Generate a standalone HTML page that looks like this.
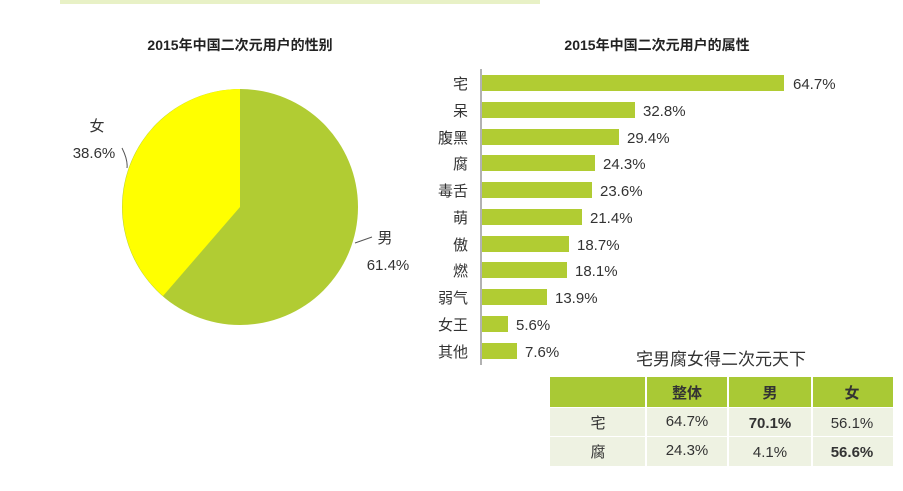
<!DOCTYPE html>
<html><head><meta charset="utf-8"><style>
body{margin:0;width:903px;height:491px;background:#fff;overflow:hidden;font-family:"Liberation Sans","Noto Sans CJK SC",sans-serif;color:#333}
</style></head><body>
<svg width="903" height="491" xmlns="http://www.w3.org/2000/svg" style="position:absolute;left:0;top:0;font-family:'Liberation Sans','Noto Sans CJK SC',sans-serif">
<rect x="60" y="0" width="480" height="4" fill="#d9e8a0" opacity="0.6"/>
<text x="240" y="50" text-anchor="middle" font-size="14" font-weight="bold" fill="#222">2015年中国二次元用户的性别</text>
<text x="657" y="50" text-anchor="middle" font-size="14" font-weight="bold" fill="#222">2015年中国二次元用户的属性</text>
<!-- pie -->
<circle cx="240" cy="207" r="118" fill="#b1cc33"/>
<path d="M240,207 L240,89 A118,118 0 0,0 163,296 Z" fill="#ffff00"/>
<path d="M122,148 Q128,160 127,168" stroke="#555" fill="none" stroke-width="1"/>
<path d="M355,243 L372,237" stroke="#555" fill="none" stroke-width="1"/>
<text x="97" y="131" text-anchor="middle" font-size="15" fill="#333">女</text>
<text x="94" y="158" text-anchor="middle" font-size="15" fill="#333">38.6%</text>
<text x="385" y="243" text-anchor="middle" font-size="15" fill="#333">男</text>
<text x="388" y="270" text-anchor="middle" font-size="15" fill="#333">61.4%</text>
<!-- bars -->
<line x1="481" y1="69" x2="481" y2="365" stroke="#999" stroke-width="1.5"/>
<g fill="#b1cc33">
<rect x="482" y="75" width="302" height="16"/>
<rect x="482" y="102" width="153" height="16"/>
<rect x="482" y="129" width="137" height="16"/>
<rect x="482" y="155" width="113" height="16"/>
<rect x="482" y="182" width="110" height="16"/>
<rect x="482" y="209" width="100" height="16"/>
<rect x="482" y="236" width="87" height="16"/>
<rect x="482" y="262" width="85" height="16"/>
<rect x="482" y="289" width="65" height="16"/>
<rect x="482" y="316" width="26" height="16"/>
<rect x="482" y="343" width="35" height="16"/>
</g>
<g font-size="15" fill="#333">
<g text-anchor="end">
<text x="468" y="89">宅</text><text x="468" y="116">呆</text><text x="468" y="143">腹黑</text>
<text x="468" y="169">腐</text><text x="468" y="196">毒舌</text><text x="468" y="223">萌</text>
<text x="468" y="250">傲</text><text x="468" y="276">燃</text><text x="468" y="303">弱气</text>
<text x="468" y="330">女王</text><text x="468" y="357">其他</text>
</g>
<text x="793" y="89">64.7%</text><text x="643" y="116">32.8%</text><text x="627" y="143">29.4%</text>
<text x="603" y="169">24.3%</text><text x="600" y="196">23.6%</text><text x="590" y="223">21.4%</text>
<text x="577" y="250">18.7%</text><text x="575" y="276">18.1%</text><text x="555" y="303">13.9%</text>
<text x="516" y="330">5.6%</text><text x="525" y="357">7.6%</text>
</g>
<!-- table -->
<text x="721" y="365" text-anchor="middle" font-size="17" fill="#333">宅男腐女得二次元天下</text>
<rect x="550" y="377" width="343" height="30" fill="#a9c935"/>
<rect x="550" y="408" width="343" height="28" fill="#eef2e2"/>
<rect x="550" y="437" width="343" height="29" fill="#eef2e2"/>
<g stroke="#fff" stroke-width="2">
<line x1="646" y1="377" x2="646" y2="466"/><line x1="728" y1="377" x2="728" y2="466"/><line x1="812" y1="377" x2="812" y2="466"/>
</g>
<g font-size="15" text-anchor="middle" fill="#333">
<text x="687" y="398" font-weight="bold">整体</text><text x="770" y="398" font-weight="bold">男</text><text x="852" y="398" font-weight="bold">女</text>
<text x="598" y="428">宅</text><text x="687" y="426">64.7%</text><text x="770" y="428" font-weight="bold">70.1%</text><text x="852" y="428">56.1%</text>
<text x="598" y="457">腐</text><text x="687" y="455">24.3%</text><text x="770" y="457">4.1%</text><text x="852" y="457" font-weight="bold">56.6%</text>
</g>
</svg>
</body></html>
